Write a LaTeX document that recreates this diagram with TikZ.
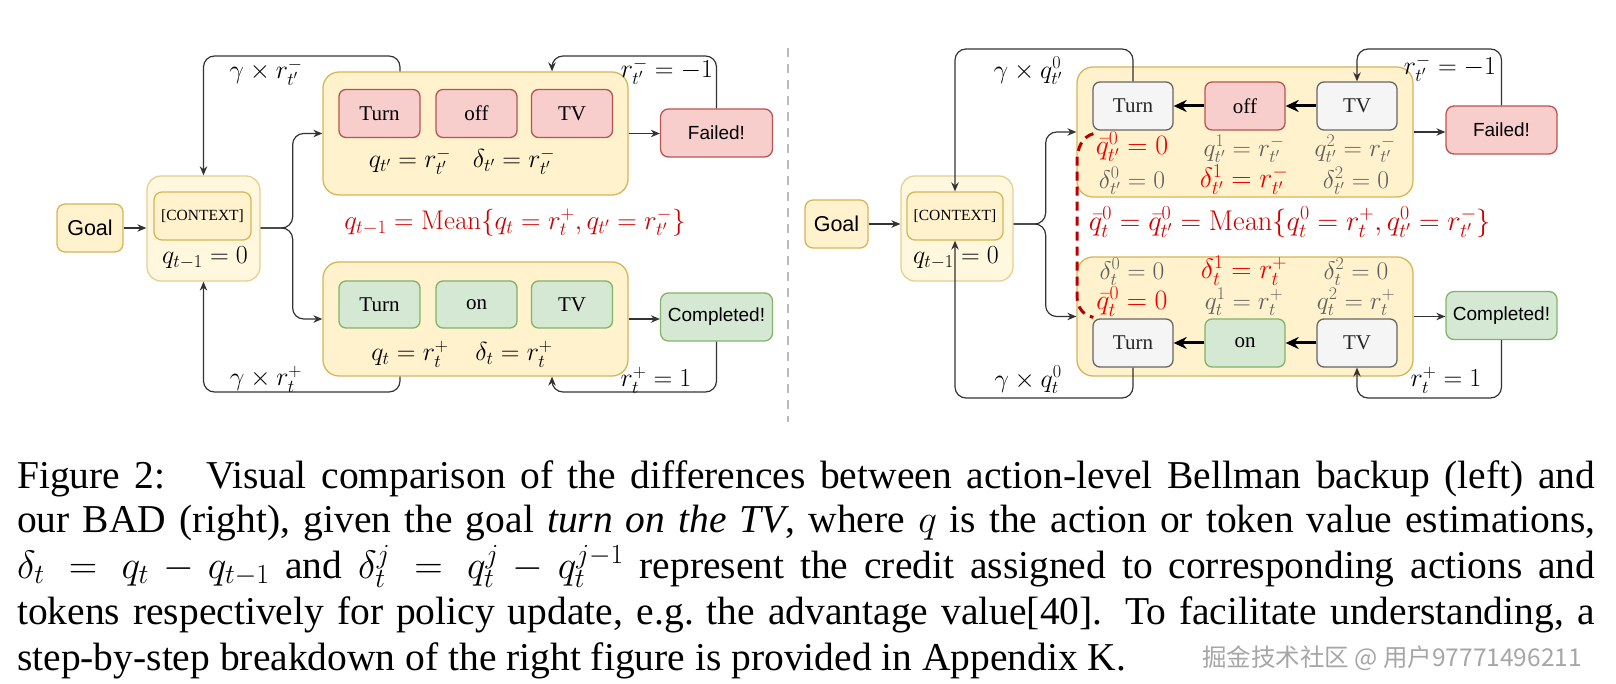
\documentclass[tikz,border=0pt]{standalone}
\usepackage{fix-cm}
\usepackage[no-math]{fontspec}
\setmainfont{Liberation Serif}
\newfontfamily\sansfont{Liberation Sans}
\newfontfamily\cjkfont{Noto Sans CJK SC}
\usetikzlibrary{arrows.meta,calc}

\definecolor{yfill}{HTML}{FFF2CC}
\definecolor{ydraw}{HTML}{D6B656}
\definecolor{rfill}{HTML}{F8CECC}
\definecolor{rdraw}{HTML}{B85450}
\definecolor{gfill}{HTML}{D5E8D4}
\definecolor{gdraw}{HTML}{82B366}
\definecolor{kfill}{HTML}{F5F5F5}
\definecolor{kdraw}{HTML}{666666}
\definecolor{meanred}{HTML}{CC0000}
\definecolor{hired}{HTML}{F00000}
\definecolor{lbgray}{HTML}{606060}
\definecolor{linec}{HTML}{333333}
\definecolor{sepc}{HTML}{BBBBBB}
\definecolor{dashred}{HTML}{B80000}

\tikzset{
  tok/.style={draw, rounded corners=7pt, line width=1.3pt, inner sep=0pt,
    minimum width=81pt, minimum height=48pt, font=\fontsize{21}{25}\selectfont},
  redtok/.style={tok, fill=rfill, draw=rdraw},
  greentok/.style={tok, fill=gfill, draw=gdraw},
  graytok/.style={tok, fill=kfill, draw=kdraw, text=black!85},
  grp/.style={draw=ydraw, fill=yfill, rounded corners=16pt, line width=1.3pt, inner sep=0pt},
  endbox/.style={draw, rounded corners=8pt, line width=1.3pt, inner sep=0pt,
    minimum width=112pt, minimum height=48pt, font=\sansfont\fontsize{19}{23}\selectfont},
  goalbox/.style={draw=ydraw, fill=yfill, rounded corners=8pt, line width=1.3pt, inner sep=0pt,
    minimum height=48pt, font=\sansfont\fontsize{21.5}{25}\selectfont},
  ctxout/.style={draw=ydraw!65, fill=yfill!65, rounded corners=14pt, line width=1.3pt, inner sep=0pt,
    minimum width=113pt, minimum height=105pt},
  ctxin/.style={draw=ydraw, fill=yfill, rounded corners=8pt, line width=1.3pt, inner sep=0pt,
    minimum width=97pt, minimum height=48pt, font=\fontsize{15.5}{18}\selectfont},
  mlabel/.style={inner sep=0pt, font=\fontsize{26}{30}\selectfont},
  glabel/.style={inner sep=0pt, font=\fontsize{25.5}{30}\selectfont, text=lbgray},
  hlabel/.style={inner sep=0pt, font=\fontsize{28}{32}\selectfont, text=hired},
  meanlabel/.style={inner sep=0pt, font=\fontsize{27}{31}\selectfont, text=meanred},
  conn/.style={draw=linec, line width=1.2pt, rounded corners=11pt, -{Stealth[length=9pt,width=7.5pt]}},
  tokarrow/.style={draw=black, line width=3pt, -{Stealth[length=13pt,width=12pt]}},
  sepline/.style={draw=sepc, line width=2.5pt, dash pattern=on 9pt off 7pt},
  reddash/.style={draw=dashred, line width=3pt, dash pattern=on 9pt off 6pt},
  capline/.style={inner sep=0pt, anchor=base west, font=\fontsize{39.5}{45}\selectfont},
}

\begin{document}
\begin{tikzpicture}[x=1pt,y=-1pt]
\path[use as bounding box] (0,0) rectangle (1616,684);

% ================= LEFT PANEL =================
\node[goalbox, minimum width=66pt] (goalL) at (90,228) {Goal};
\node[ctxout] (ctxOutL) at (203.5,228.5) {};
\node[ctxin] (ctxInL) at (202.5,216) {[CONTEXT]};
\node[mlabel] (qL) at (205,258) {$q_{t-1}=0$};

\node[grp, minimum width=305pt, minimum height=123pt] (grpTopL) at (475.5,133.5) {};
\node[redtok] (turnTL) at (379.5,113.5) {Turn};
\node[redtok] (offL) at (476.5,113.5) {off};
\node[redtok] (tvTL) at (572,113.5) {TV};
\node[mlabel] (lqTL) at (410,161) {$q_{t'}=r^-_{t'}$};
\node[mlabel] (ldTL) at (514,161) {$\delta_{t'}=r^-_{t'}$};
\node[endbox, fill=rfill, draw=rdraw] (failL) at (716.5,133) {Failed!};

\node[meanlabel] (meanL) at (515,222) {$q_{t-1}=\mathrm{Mean}\{q_t=r^+_t,q_{t'}=r^-_{t'}\}$};

\node[grp, minimum width=305pt, minimum height=114pt] (grpBotL) at (475.5,319) {};
\node[greentok, minimum height=47pt] (turnBL) at (379.5,304.5) {Turn};
\node[greentok, minimum height=47pt] (onL) at (476.5,304.5) {on};
\node[greentok, minimum height=47pt] (tvBL) at (572,304.5) {TV};
\node[mlabel] (lqBL) at (410,354) {$q_t=r^+_t$};
\node[mlabel] (ldBL) at (514,354) {$\delta_t=r^+_t$};
\node[endbox, fill=gfill, draw=gdraw] (compL) at (716.5,317) {Completed!};

\coordinate (fbTL) at (552,56);
\coordinate (gtL) at (400,56);
\coordinate (fbBL) at (552,392);
\coordinate (gbL) at (400,392);

\draw[conn] (goalL.east) -- (goalL.east -| ctxOutL.west);
\draw[conn] (goalL.east -| ctxOutL.east) -- ++(32,0) |- (grpTopL.west);
\draw[conn] (goalL.east -| ctxOutL.east) -- ++(32,0) |- (grpBotL.west);
\draw[conn] (grpTopL.east) -- (grpTopL.east -| failL.west);
\draw[conn] (grpBotL.east) -- (grpBotL.east -| compL.west);
\draw[conn] (failL.north) |- (fbTL) -- (fbTL |- grpTopL.north);
\draw[conn] (gtL |- grpTopL.north) |- (ctxOutL.north |- gtL) -- (ctxOutL.north);
\draw[conn] (compL.south) |- (fbBL) -- (fbBL |- grpBotL.south);
\draw[conn] (gbL |- grpBotL.south) |- (ctxOutL.south |- gbL) -- (ctxOutL.south);

\node[mlabel] (lgTL) at (266,72) {$\gamma\times r^-_{t'}$};
\node[mlabel] (lrTL) at (667,71) {$r^-_{t'}=-1$};
\node[mlabel] (lgBL) at (266,379) {$\gamma\times r^+_t$};
\node[mlabel] (lrBL) at (656,380) {$r^+_t=1$};

% separator
\coordinate (sepTop) at (788,48);
\coordinate (sepBot) at (788,422);
\draw[sepline] (sepTop) -- (sepBot);

% ================= RIGHT PANEL =================
\node[goalbox, minimum width=63pt] (goalR) at (836.5,224) {Goal};
\node[ctxout, minimum width=112pt] (ctxOutR) at (957,228.5) {};
\node[ctxin, minimum width=96pt] (ctxInR) at (955,216) {[CONTEXT]};
\node[mlabel] (qR) at (956,258) {$q_{t-1}=0$};

\node[grp, minimum width=336pt, minimum height=130pt] (grpTopR) at (1245,132) {};
\node[graytok, minimum width=80pt] (turnTR) at (1133,106) {Turn};
\node[redtok, minimum width=80pt] (offR) at (1245,106) {off};
\node[graytok, minimum width=80pt] (tvTR) at (1357,106) {TV};
\node[hlabel] (hq0T) at (1132,147) {$\bar q^0_{t'}=0$};
\node[glabel] (gq1T) at (1244,149) {$q^1_{t'}=r^-_{t'}$};
\node[glabel] (gq2T) at (1355,149) {$q^2_{t'}=r^-_{t'}$};
\node[glabel] (gd0T) at (1132,181) {$\delta^0_{t'}=0$};
\node[hlabel] (hd1T) at (1244,180) {$\delta^1_{t'}=r^-_{t'}$};
\node[glabel] (gd2T) at (1356,181) {$\delta^2_{t'}=0$};
\node[endbox, fill=rfill, draw=rdraw, minimum width=111pt] (failR) at (1501.5,130) {Failed!};

\node[meanlabel, font=\fontsize{28.5}{32}\selectfont] (meanR) at (1290,222) {$\bar q^0_t=\bar q^0_{t'}=\mathrm{Mean}\{q^0_t=r^+_t,q^0_{t'}=r^-_{t'}\}$};

\node[grp, minimum width=336pt, minimum height=119pt] (grpBotR) at (1245,316.5) {};
\node[glabel] (gd0B) at (1132,272) {$\delta^0_t=0$};
\node[hlabel] (hd1B) at (1244,271) {$\delta^1_t=r^+_t$};
\node[glabel] (gd2B) at (1356,272) {$\delta^2_t=0$};
\node[hlabel] (hq0B) at (1132,302) {$\bar q^0_t=0$};
\node[glabel] (gq1B) at (1244,302) {$q^1_t=r^+_t$};
\node[glabel] (gq2B) at (1356,302) {$q^2_t=r^+_t$};
\node[graytok, minimum width=80pt] (turnBR) at (1133,343) {Turn};
\node[greentok, minimum width=80pt] (onR) at (1245,343) {on};
\node[graytok, minimum width=80pt] (tvBR) at (1357,343) {TV};
\node[endbox, fill=gfill, draw=gdraw, minimum width=111pt] (compR) at (1501.5,315.5) {Completed!};

\draw[tokarrow] (tvTR.west) -- (offR.east);
\draw[tokarrow] (offR.west) -- (turnTR.east);
\draw[tokarrow] (tvBR.west) -- (onR.east);
\draw[tokarrow] (onR.west) -- (turnBR.east);

\coordinate (fbTR) at (1357,49);
\coordinate (fbBR) at (1357,398);

\draw[conn] (goalR.east) -- (goalR.east -| ctxOutR.west);
\draw[conn] (goalR.east -| ctxOutR.east) -- ++(32,0) |- (grpTopR.west);
\draw[conn] (goalR.east -| ctxOutR.east) -- ++(32,0) |- (grpBotR.west);
\draw[conn] (grpTopR.east) -- (grpTopR.east -| failR.west);
\draw[conn] (grpBotR.east) -- (grpBotR.east -| compR.west);
\draw[conn] (failR.north) |- (tvTR.north |- fbTR) -- (tvTR.north);
\draw[conn] (turnTR.north) |- (ctxInR.north |- fbTR) -- (ctxInR.north);
\draw[conn] (compR.south) |- (tvBR.south |- fbBR) -- (tvBR.south);
\draw[conn] (turnBR.south) |- (ctxInR.south |- fbBR) -- (ctxInR.south);

\node[mlabel] (lgTR) at (1028,71) {$\gamma\times q^0_{t'}$};
\node[mlabel] (lrTR) at (1450,68) {$r^-_{t'}=-1$};
\node[mlabel] (lgBR) at (1028,380) {$\gamma\times q^0_t$};
\node[mlabel] (lrBR) at (1446,380) {$r^+_t=1$};

\draw[reddash] ($(turnTR.south west)+(1,3)$) .. controls (1082,137) and (1077,148) .. (1077,162)
  -- (1077,295) .. controls (1077,308) and (1083,315) .. ($(turnBR.north west)+(1,-1)$);

% ================= CAPTION =================
\node[capline] (cap1) at (17,488) {\makebox[1578pt][s]{Figure 2:\hspace{0.45em} Visual comparison of the differences between action-level Bellman backup (left) and}};
\node[capline] (cap2) at (17,532) {\makebox[1578pt][s]{our BAD (right), given the goal \textit{turn on the TV}, where $q$ is the action or token value estimations,}};
\node[capline] (cap3) at (17,578) {\makebox[1578pt][s]{$\delta_t = q_t - q_{t-1}$ and $\delta^j_t = q^j_t - q^{j-1}_t$ represent the credit assigned to corresponding actions and}};
\node[capline] (cap4) at (17,624) {\makebox[1578pt][s]{tokens respectively for policy update, e.g.\ the advantage value[40]. To facilitate understanding, a}};
\node[capline] (cap5) at (17,670) {step-by-step breakdown of the right figure is provided in Appendix K.};
\node[inner sep=0pt, anchor=base west, font=\cjkfont\fontsize{24.5}{30}\selectfont, text=black!35] (wm) at (1202,666) {掘金技术社区 @ 用户97771496211};
\end{tikzpicture}
\end{document}
